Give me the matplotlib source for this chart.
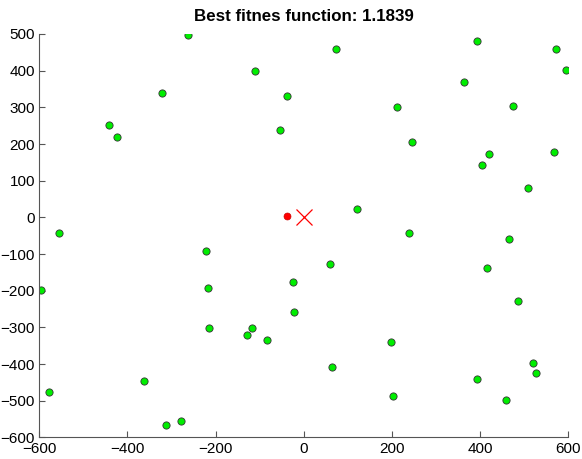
import matplotlib
matplotlib.use("Agg")
import matplotlib.pyplot as plt

title = "Best fitnes function: 1.1839"

green_x = [-443, -423, -322, -262, -110, -39, -53,
           74, 392, 573, 595, 363, 211, 475, 245, 421, 405, 567, 509, 120,
           -555, -597, -579, -362, -313, -278, -222, -217, -214, -129, -118, -84, -24, -23,
           239, 466, 59, 415, 486, 197, 64, 520, 526, 392, 203, 459]
green_y = [251, 218, 340, 497, 398, 331, 238,
           459, 482, 459, 402, 370, 301, 304, 206, 173, 144, 178, 81, 23,
           -42, -197, -476, -447, -565, -555, -92, -192, -301, -321, -303, -334, -177, -257,
           -42, -60, -128, -138, -228, -339, -409, -397, -423, -442, -488, -497]

best_x = [-37]
best_y = [5]

target_x = [0]
target_y = [0]

xticks = list(range(-600, 601, 200))
yticks = list(range(-600, 501, 100))

plt.rcParams['font.family'] = ['Liberation Sans', 'DejaVu Sans']

fig = plt.figure(figsize=(5.82, 4.59), dpi=100)
ax = fig.add_axes([0.0675, 0.047, 0.909, 0.879])

ax.plot(green_x, green_y, linestyle='none', marker='o', markersize=5.2,
        markerfacecolor='#00ee00', markeredgecolor='#333333', markeredgewidth=0.6)
ax.plot(best_x, best_y, linestyle='none', marker='o', markersize=5.0,
        markerfacecolor='#ff0000', markeredgecolor='#cc0000', markeredgewidth=0.5)
ax.plot(target_x, target_y, linestyle='none', marker='x', markersize=11,
        color='#ff0000', markeredgewidth=0.9)

ax.set_xlim(-600, 600)
ax.set_ylim(-600, 500)
ax.set_xticks(xticks)
ax.set_yticks(yticks)
ax.spines['top'].set_visible(False)
ax.spines['right'].set_visible(False)
for s in ('left', 'bottom'):
    ax.spines[s].set_color('#555555')
    ax.spines[s].set_linewidth(0.8)
ax.tick_params(direction='in', length=4, width=0.8, color='#555555',
               labelsize=11, labelcolor='black', pad=3)
ax.set_title(title, fontsize=12.2, fontweight='bold', pad=9)

fig.savefig("out.png", dpi=100)
